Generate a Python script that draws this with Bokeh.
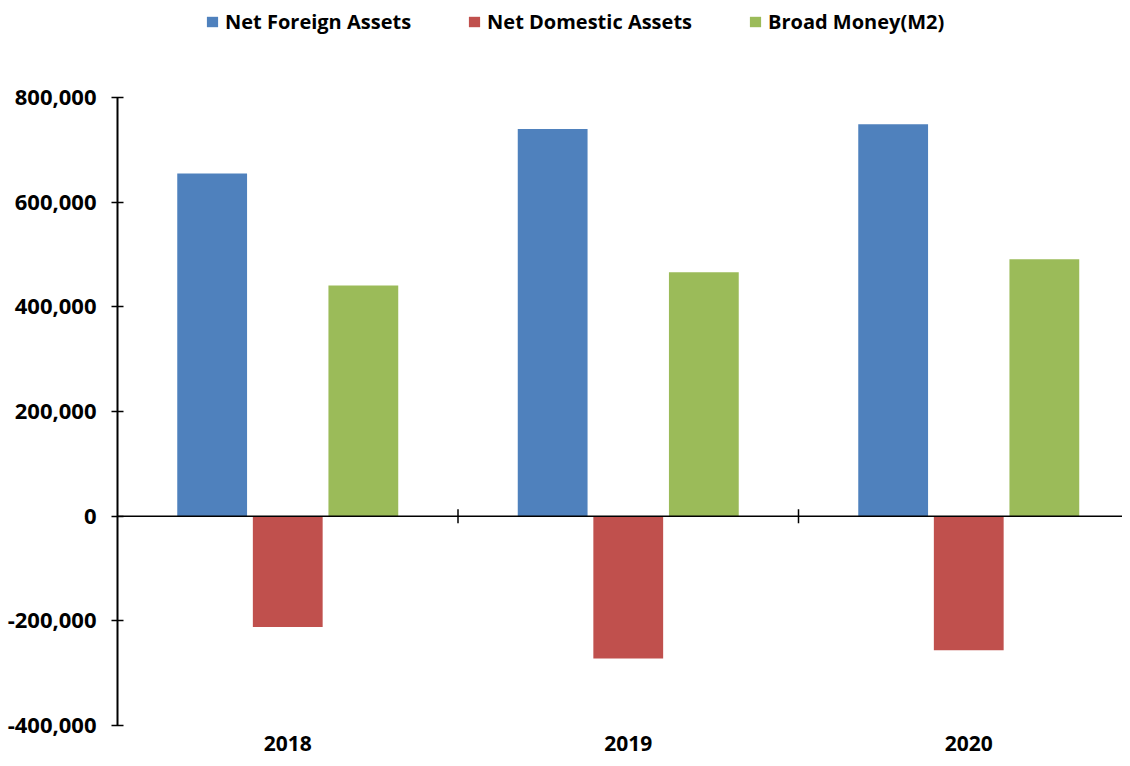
import numpy as np
from bokeh.plotting import figure
from bokeh.models import (ColumnDataSource, Range1d, LinearAxis, FixedTicker,
                          NumeralTickFormatter, Legend, LegendItem, Span)
from bokeh.transform import dodge
from bokeh.embed import file_html
from bokeh.resources import INLINE

years = ["2018", "2019", "2020"]
net_foreign_assets = [655000, 740000, 749000]
net_domestic_assets = [-212000, -272000, -256000]
broad_money_m2 = [441000, 466000, 491000]
y_ticks = [-400000, -200000, 0, 200000, 400000, 600000, 800000]

FONT = "Open Sans"
C_BLUE, C_RED, C_GREEN = "#4F81BD", "#C0504D", "#9BBB59"

x_centers = np.arange(len(years)) + 0.5
boundaries = np.arange(1, len(years))
src = ColumnDataSource(dict(x=x_centers, nfa=net_foreign_assets,
                            nda=net_domestic_assets, m2=broad_money_m2))

# pixel scale: 628 px for 1,200,000
ppu = 628 / 1200000.0
y_top = 800000 + 97 / ppu

p = figure(width=1122, height=758, output_backend="svg", toolbar_location=None,
           x_range=Range1d(0, (1122 - 117) / 340.5), y_range=Range1d(-400000, y_top),
           min_border_left=117, min_border_right=0, min_border_top=0,
           min_border_bottom=33, x_axis_type=None, y_axis_type=None)
p.outline_line_color = None
p.xgrid.visible = False
p.ygrid.visible = False

w = 0.205
r1 = p.vbar(x=dodge("x", -0.222), top="nfa", bottom=0, width=w, source=src,
            fill_color=C_BLUE, line_color=None)
r2 = p.vbar(x=dodge("x", 0.0), top="nda", bottom=0, width=w, source=src,
            fill_color=C_RED, line_color=None)
r3 = p.vbar(x=dodge("x", 0.222), top="m2", bottom=0, width=w, source=src,
            fill_color=C_GREEN, line_color=None)

# zero line and category separators
p.add_layout(Span(location=0, dimension="width", line_color="black", line_width=1.5))
p.scatter(x=boundaries, y=np.zeros(len(boundaries)), marker="dash", size=14,
          angle=np.pi / 2, line_color="black", line_width=1.5)

# y axis
ya = LinearAxis(ticker=FixedTicker(ticks=y_ticks),
                formatter=NumeralTickFormatter(format="0,0"),
                bounds=(-400000, 800000))
ya.axis_line_width = 2
ya.axis_line_color = "black"
ya.major_tick_in = 6
ya.major_tick_out = 6
ya.major_tick_line_width = 1.5
ya.minor_tick_line_color = None
ya.major_label_standoff = 15
ya.major_label_text_font = FONT
ya.major_label_text_font_style = "bold"
ya.major_label_text_font_size = "22px"
ya.major_label_text_color = "black"
p.add_layout(ya, "left")

# year labels axis
xa = LinearAxis(ticker=FixedTicker(ticks=list(x_centers)),
                major_label_overrides={float(c): y for c, y in zip(x_centers, years)})
xa.axis_line_color = None
xa.major_tick_line_color = None
xa.minor_tick_line_color = None
xa.major_label_standoff = 4
xa.major_label_text_font = FONT
xa.major_label_text_font_style = "bold"
xa.major_label_text_font_size = "21px"
xa.major_label_text_color = "black"
p.add_layout(xa, "below")

legend = Legend(items=[LegendItem(label="Net Foreign Assets", renderers=[r1]),
                       LegendItem(label="Net Domestic Assets", renderers=[r2]),
                       LegendItem(label="Broad Money(M2)", renderers=[r3])],
                orientation="horizontal", location=(88, 690))
legend.border_line_color = None
legend.background_fill_alpha = 0
legend.padding = 0
legend.margin = 0
legend.spacing = 56
legend.label_standoff = 6
legend.glyph_width = 14
legend.glyph_height = 13
legend.label_text_font = FONT
legend.label_text_font_style = "bold"
legend.label_text_font_size = "20px"
legend.label_text_color = "black"
p.add_layout(legend, "center")

open("out.html", "w").write(file_html(p, INLINE))
